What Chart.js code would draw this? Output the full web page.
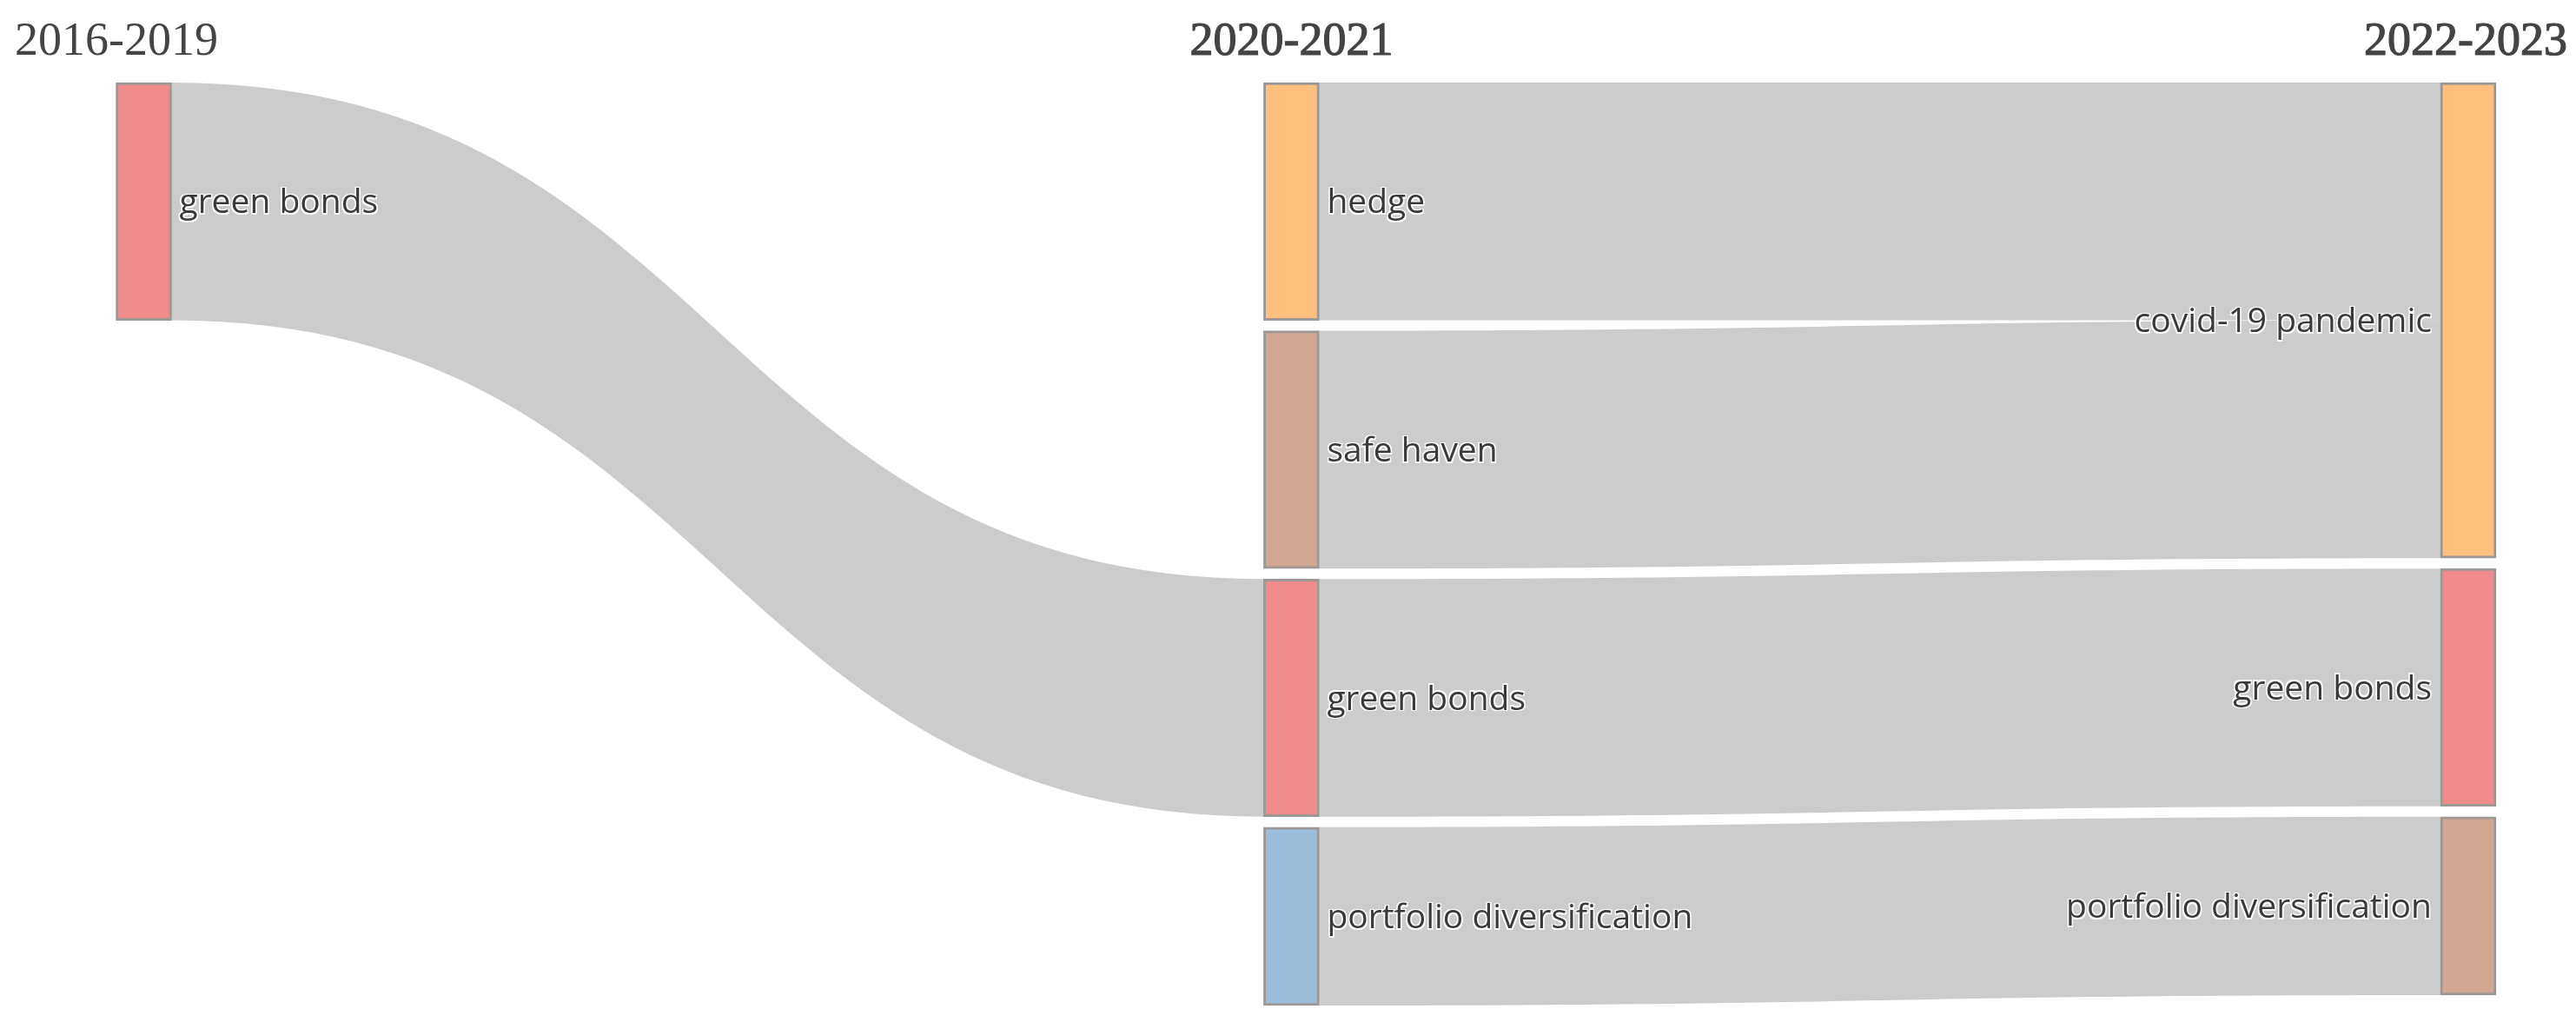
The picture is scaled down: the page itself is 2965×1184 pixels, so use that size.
<!DOCTYPE html>
<html>
<head>
<meta charset="utf-8">
<script src="https://cdn.jsdelivr.net/npm/chart.js@4.4.1/dist/chart.umd.min.js"></script>
<style>
  html, body { margin: 0; padding: 0; background: #fff; }
  #wrap { width: 2965px; height: 1184px; position: relative; }
</style>
</head>
<body>
<div id="wrap"><canvas id="sankey"></canvas></div>
<script>
const PERIODS = ['2016-2019', '2020-2021', '2022-2023'];
const NODE_LABELS = ['green bonds', 'hedge', 'safe haven', 'green bonds', 'portfolio diversification',
                     'covid-19 pandemic', 'green bonds', 'portfolio diversification'];
const NODE_PERIOD = [0, 1, 1, 1, 1, 2, 2, 2];
const NODE_COLORS = ['#f08b8b', '#febf7f', '#d1a791', '#f08b8b', '#9cbdd9', '#febf7f', '#f08b8b', '#d1a791'];
const LINK_SOURCE = [0, 1, 2, 3, 4];
const LINK_TARGET = [3, 5, 5, 6, 7];
const LINK_VALUE = [4, 4, 4, 4, 3];

// layout settings
const COLUMN_POS = [0, 0.4937, 1];
const NODE_GAP = 0.176;   // vertical padding between nodes, in value units
const NODE_WIDTH = 64;
const LABEL_FONT = 39;

// node sizes and vertical stacking
const nodeIn = NODE_LABELS.map(() => 0);
const nodeOut = NODE_LABELS.map(() => 0);
LINK_VALUE.forEach((v, i) => { nodeOut[LINK_SOURCE[i]] += v; nodeIn[LINK_TARGET[i]] += v; });
const nodeValue = NODE_LABELS.map((_, i) => Math.max(nodeIn[i], nodeOut[i]));
const nodeTop = [];
const colFill = PERIODS.map(() => 0);
NODE_LABELS.forEach((_, i) => {
  const c = NODE_PERIOD[i];
  nodeTop[i] = colFill[c];
  colFill[c] += nodeValue[i] + NODE_GAP;
});
const yMax = Math.max(...colFill) - NODE_GAP;

const outOff = nodeTop.slice(), inOff = nodeTop.slice();
const links = LINK_VALUE.map((v, i) => {
  const s = LINK_SOURCE[i], t = LINK_TARGET[i];
  const l = { s, t, v, y0: outOff[s], y1: inOff[t] };
  outOff[s] += v; inOff[t] += v;
  return l;
});

const linkPlugin = {
  id: 'links',
  beforeDatasetsDraw(chart) {
    const { ctx, scales: { x, y } } = chart;
    ctx.save();
    ctx.fillStyle = 'rgba(0,0,0,0.2)';
    links.forEach(l => {
      const xs = x.getPixelForValue(COLUMN_POS[NODE_PERIOD[l.s]]) + NODE_WIDTH / 2;
      const xt = x.getPixelForValue(COLUMN_POS[NODE_PERIOD[l.t]]) - NODE_WIDTH / 2;
      const xm = (xs + xt) / 2;
      const a0 = y.getPixelForValue(l.y0), a1 = y.getPixelForValue(l.y0 + l.v);
      const b0 = y.getPixelForValue(l.y1), b1 = y.getPixelForValue(l.y1 + l.v);
      ctx.beginPath();
      ctx.moveTo(xs, a0);
      ctx.bezierCurveTo(xm, a0, xm, b0, xt, b0);
      ctx.lineTo(xt, b1);
      ctx.bezierCurveTo(xm, b1, xm, a1, xs, a1);
      ctx.closePath();
      ctx.fill();
    });
    ctx.restore();
  },
  afterDatasetsDraw(chart) {
    const { ctx, scales: { x, y } } = chart;
    ctx.save();
    ctx.font = LABEL_FONT + 'px "Open Sans"';
    ctx.textBaseline = 'alphabetic';
    const last = PERIODS.length - 1;
    NODE_LABELS.forEach((name, i) => {
      const cx = x.getPixelForValue(COLUMN_POS[NODE_PERIOD[i]]);
      const cy = y.getPixelForValue(nodeTop[i] + nodeValue[i] / 2) + LABEL_FONT * 0.35;
      let tx;
      if (NODE_PERIOD[i] < last) { ctx.textAlign = 'left'; tx = cx + NODE_WIDTH / 2 + 9; }
      else { ctx.textAlign = 'right'; tx = cx - NODE_WIDTH / 2 - 10; }
      ctx.fillStyle = 'rgba(255,255,255,0.9)';
      [[-1.5, -1.5], [1.5, -1.5], [-1.5, 1.5], [1.5, 1.5]].forEach(([dx, dy]) => ctx.fillText(name, tx + dx, cy + dy));
      ctx.fillStyle = '#3a3a3a';
      ctx.fillText(name, tx, cy);
    });

    // period headers
    ctx.font = '54px "Liberation Serif"';
    ctx.fillStyle = '#444';
    ctx.strokeStyle = '#444';
    ctx.lineWidth = 1.2;
    PERIODS.forEach((p, c) => {
      let tx;
      if (c === 0) { ctx.textAlign = 'left'; tx = 17; }
      else if (c === last) { ctx.textAlign = 'right'; tx = chart.width - 10; }
      else { ctx.textAlign = 'center'; tx = x.getPixelForValue(COLUMN_POS[c]); }
      ctx.fillText(p, tx, 63);
      if (c > 0) ctx.strokeText(p, tx, 63);
    });
    ctx.restore();
  }
};

new Chart(document.getElementById('sankey'), {
  type: 'bar',
  data: {
    datasets: [{
      data: NODE_LABELS.map((_, i) => ({ x: COLUMN_POS[NODE_PERIOD[i]], y: [nodeTop[i], nodeTop[i] + nodeValue[i]] })),
      backgroundColor: NODE_COLORS,
      borderColor: 'rgba(60,50,45,0.5)',
      borderWidth: 3,
      borderSkipped: false,
      barThickness: NODE_WIDTH,
      clip: false
    }]
  },
  options: {
    responsive: true,
    maintainAspectRatio: false,
    animation: false,
    layout: { padding: { left: 165.5, right: 124, top: 95, bottom: 27 } },
    plugins: { legend: { display: false }, tooltip: { enabled: false } },
    scales: {
      x: { type: 'linear', min: 0, max: 1, offset: false, display: false },
      y: { min: 0, max: yMax, reverse: true, display: false }
    }
  },
  plugins: [linkPlugin]
});
</script>
</body>
</html>
